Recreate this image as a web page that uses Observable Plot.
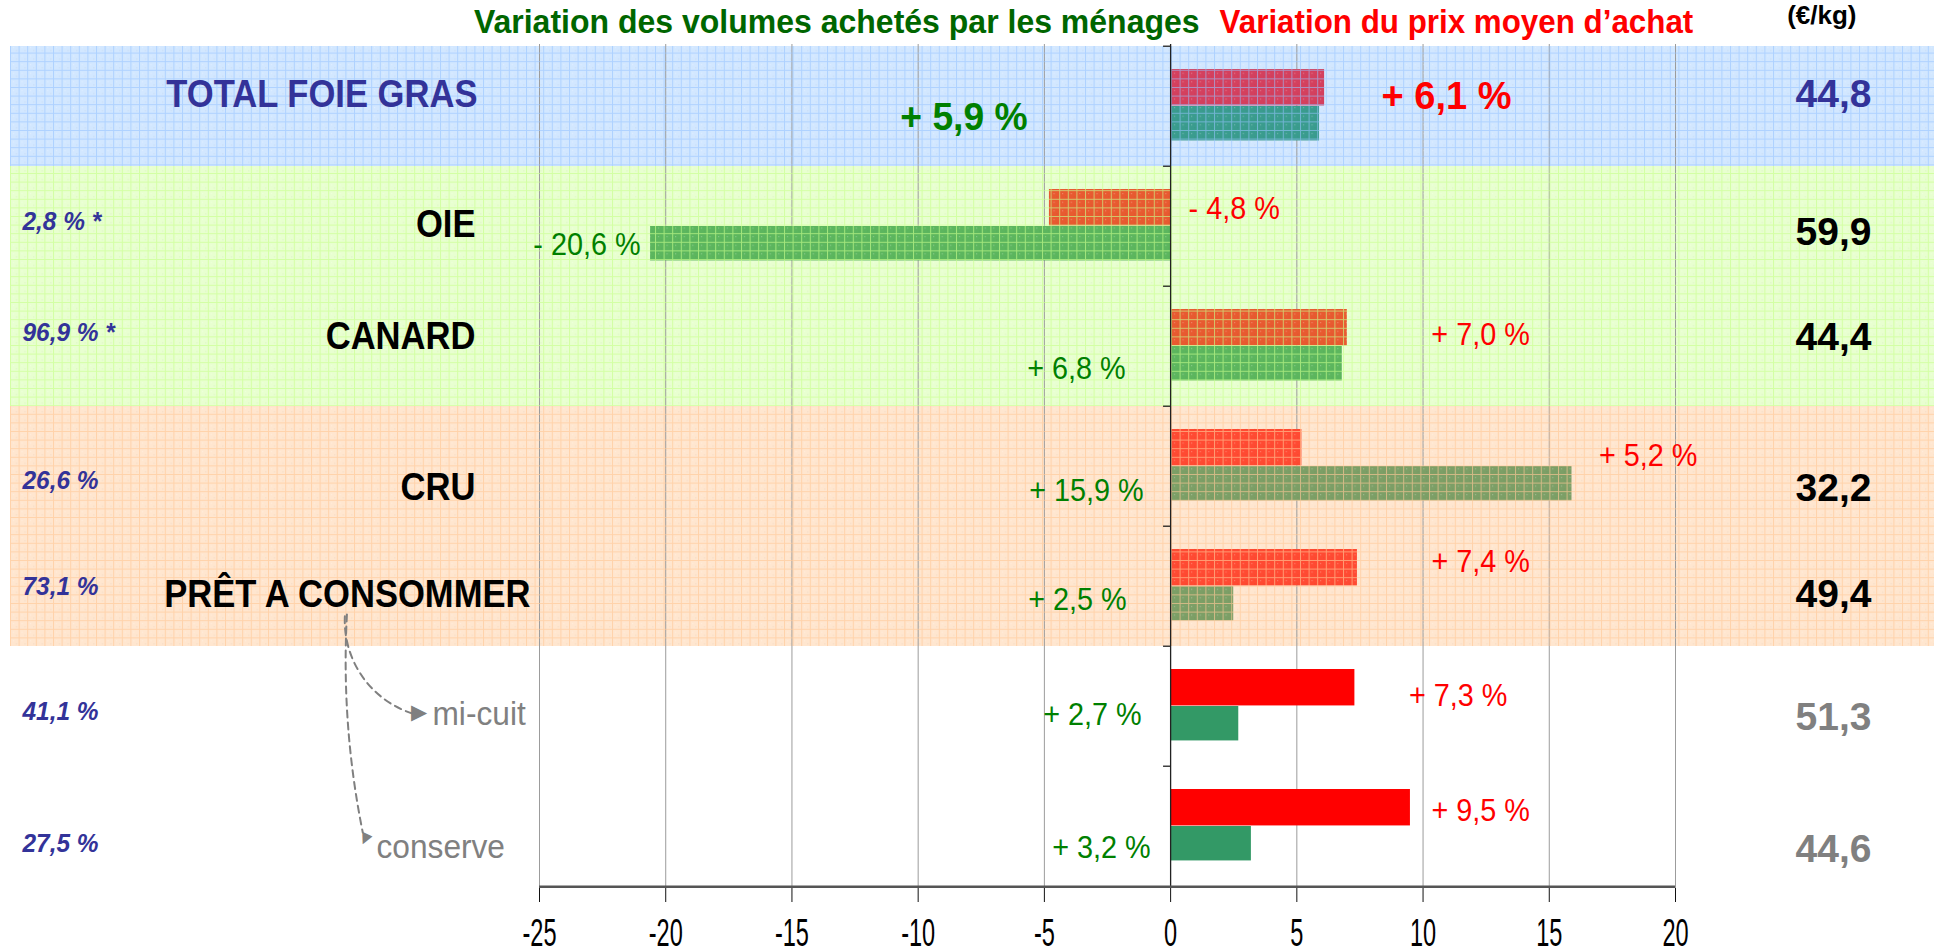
<!DOCTYPE html>
<html><head><meta charset="utf-8">
<script src="https://cdn.jsdelivr.net/npm/d3@7"></script>
<script src="https://cdn.jsdelivr.net/npm/@observablehq/plot@0.6"></script>
<style>body{margin:0;background:#fff} svg{display:block}</style>
</head><body><div id="chart"></div>
<script>
// ---- data ----
const categories = ["TOTAL FOIE GRAS", "OIE", "CANARD", "CRU", "PRÊT A CONSOMMER", "mi-cuit", "conserve"];
const volumeChange = [5.9, -20.6, 6.8, 15.9, 2.5, 2.7, 3.2];
const priceChange = [6.1, -4.8, 7.0, 5.2, 7.4, 7.3, 9.5];
const pricePerKg = [44.8, 59.9, 44.4, 32.2, 49.4, 51.3, 44.6];
const shares = ["", "2,8 % *", "96,9 % *", "26,6 %", "73,1 %", "41,1 %", "27,5 %"];
const groups = ["total", "espece", "espece", "presentation", "presentation", "detail", "detail"];
const xTicks = [-25, -20, -15, -10, -5, 0, 5, 10, 15, 20];
const titleVolume = "Variation des volumes achetés par les ménages";
const titlePrice = "Variation du prix moyen d’achat";
const unitLabel = "(€/kg)";

// ---- layout and styling (not data) ----
const W = 1934, H = 952, MT = 44, MB = 64, ML = 10, MR = 0;
const bw = (H - MT - MB) / categories.length;
const catX = [477, 475, 475, 475, 530, 432, 376];
const catDy = [-12, -2, -10, 21, 8, 8, 21];
const shareDy = [0, -5, -14, 14, 0, 5, 17];
const kgDy = [-12, 6, -9, 22, 8, 11, 23];
const volDx = [-143, -10, -45, -27, -44, -29, -20];
const volDy = [11, 18, 22, 24, 13, 8, 21];
const priceDx = [57, 18, 84, 297, 74, 54, 21];
const priceDy = [-10, -18, -12, -11, -25, -11, -16];
const bandFill = {total: "#d2e7ff", espece: "#e8ffd0", presentation: "#ffe6cf"};
const bandPattern = {total: "pBlue", espece: "pGreen", presentation: "pOrange"};
const priceColor = {total: "#d4405e", espece: "#e85a30", presentation: "#ff4a32", detail: "#ff0000"};
const volColor = {total: "#3a9c8e", espece: "#5cb65e", presentation: "#7c9f66", detail: "#339966"};
const kgColor = ["#333399", "#000", "#000", "#000", "#000", "#808080", "#808080"];

const rows = categories.map((cat, i) => ({
  cat, vol: volumeChange[i], price: priceChange[i], kg: pricePerKg[i], share: shares[i], group: groups[i], i
}));
const fmt = v => (v >= 0 ? "+ " : "- ") + Math.abs(v).toFixed(1).replace(".", ",") + " %";
const fmtKg = v => v.toFixed(1).replace(".", ",");
const byGroup = g => rows.filter(r => r.group === g);

const marks = [];
// background bands
for (const g of ["total", "espece", "presentation"]) {
  marks.push(Plot.cell(byGroup(g), {y: "cat", fill: bandFill[g]}));
}
// grid
marks.push(Plot.ruleX(xTicks.filter(t => t !== 0), {stroke: "#9c9c9c", strokeWidth: 1}));
// bars
const redInset = {insetTop: 23, insetBottom: bw - 60};
const greenInset = {insetTop: 60, insetBottom: bw - 95};
for (const g of ["total", "espece", "presentation", "detail"]) {
  marks.push(Plot.barX(byGroup(g), {x: "price", y: "cat", fill: priceColor[g], ...redInset}));
  marks.push(Plot.barX(byGroup(g), {x: "vol", y: "cat", fill: volColor[g], ...greenInset}));
}
// pattern overlay on bands
for (const g of ["total", "espece", "presentation"]) {
  marks.push(Plot.cell(byGroup(g), {y: "cat", fill: "none", ariaDescription: "pat:" + bandPattern[g]}));
}
// zero line and category ticks
marks.push(Plot.ruleX([0], {stroke: "#222", strokeWidth: 1.3}));
marks.push(Plot.ruleY(categories, {y: d => d, x1: -0.28, x2: 0, dy: -bw / 2, stroke: "#222", strokeWidth: 1.3}));
// x axis
marks.push(Plot.ruleY([categories[categories.length - 1]], {y: d => d, x1: -25, x2: 20, dy: bw / 2, stroke: "#555", strokeWidth: 2.5}));
marks.push(Plot.axisX({ticks: xTicks, tickFormat: d => String(d), tickSize: 14, tickPadding: 17, fontSize: 38, stroke: "#111", label: null}));

// titles
marks.push(Plot.text([0], {x: d => d, frameAnchor: "top", lineAnchor: "middle", dy: -22, dx: 29, textAnchor: "end", text: () => titleVolume,
  fill: "#006600", fontWeight: "bold", fontSize: 33, ariaDescription: "sx0.97"}));
marks.push(Plot.text([0], {x: d => d, frameAnchor: "top", lineAnchor: "middle", dy: -22, dx: 49, textAnchor: "start", text: () => titlePrice,
  fill: "#ff0000", fontWeight: "bold", fontSize: 33, ariaDescription: "sx0.95"}));
marks.push(Plot.text([unitLabel], {frameAnchor: "top-right", lineAnchor: "middle", dx: -78, dy: -29, textAnchor: "end", text: d => d,
  fill: "#000", fontWeight: "bold", fontSize: 26}));

rows.forEach((r, i) => {
  const main = r.group !== "detail";
  // category label
  marks.push(Plot.text([r], {y: "cat", frameAnchor: "left", dx: catX[i] - ML, dy: catDy[i], text: "cat",
    textAnchor: main ? "end" : "start",
    fill: i === 0 ? "#333399" : main ? "#000" : "#808080",
    fontWeight: main ? "bold" : "normal", fontSize: main ? 38 : 33, ariaDescription: main ? "sx0.91" : "sx0.96"}));
  // share
  if (r.share) marks.push(Plot.text([r], {y: "cat", frameAnchor: "left", dx: 12, dy: shareDy[i], text: "share",
    textAnchor: "start", fill: "#333399", fontWeight: "bold", fontStyle: "italic", fontSize: 26, ariaDescription: "sx0.94"}));
  // price per kg
  marks.push(Plot.text([r], {y: "cat", frameAnchor: "right", dx: 1871 - W, dy: kgDy[i], text: d => fmtKg(d.kg),
    textAnchor: "end", fill: kgColor[i], fontWeight: "bold", fontSize: 39}));
  // volume change label
  marks.push(Plot.text([r], {x: d => Math.min(d.vol, 0), y: "cat", dx: volDx[i], dy: volDy[i], text: d => fmt(d.vol),
    textAnchor: "end", fill: "#008000", fontWeight: i === 0 ? "bold" : "normal", fontSize: i === 0 ? 38 : 32,
    ariaDescription: i === 0 ? "sx0.98" : "sx0.9"}));
  // price change label
  marks.push(Plot.text([r], {x: d => Math.max(d.price, 0), y: "cat", dx: priceDx[i], dy: priceDy[i], text: d => fmt(d.price),
    textAnchor: "start", fill: "#ff0000", fontWeight: i === 0 ? "bold" : "normal", fontSize: i === 0 ? 38 : 32,
    ariaDescription: i === 0 ? "sx1" : "sx0.9"}));
});

// annotation arrows from "PRÊT A CONSOMMER" to its details
const arrowStartX = -32.57;
marks.push(Plot.arrow([{from: categories[4], to: categories[5]}], {x1: () => arrowStartX, x2: () => -29.9, y1: "from", y2: "to",
  dy: 8, bend: -45, headLength: 0, insetStart: 22, stroke: "#808080", strokeWidth: 2, strokeDasharray: "7,5"}));
marks.push(Plot.arrow([{from: categories[4], to: categories[6]}], {x1: () => arrowStartX, x2: () => -32.0, y1: "from", y2: "to",
  dy: 6, bend: -8, headLength: 0, insetStart: 22, stroke: "#808080", strokeWidth: 2, strokeDasharray: "7,5"}));
marks.push(Plot.text([categories[5]], {x: () => -30.1, y: d => d, dy: 6, text: () => "▶", textAnchor: "start", fill: "#808080", fontSize: 21}));
marks.push(Plot.text([categories[6]], {x: () => -31.9, y: d => d, dy: 12, text: () => "▼", textAnchor: "middle", fill: "#808080", fontSize: 19, rotate: 25}));

const svg = Plot.plot({
  width: W, height: H, marginTop: MT, marginBottom: MB, marginLeft: ML, marginRight: MR,
  style: {fontFamily: "'Liberation Sans', Arial, sans-serif", background: "#fff", overflow: "visible"},
  x: {domain: [-25, 20], range: [539, 1675]},
  y: {type: "band", domain: categories, padding: 0, axis: null},
  marks
});

// patterns (built with the DOM API)
const NS = "http://www.w3.org/2000/svg";
const el = (name, attrs) => { const e = document.createElementNS(NS, name); for (const k in attrs) e.setAttribute(k, attrs[k]); return e; };
const defs = el("defs", {});
const makePattern = (id, color) => {
  const p = el("pattern", {id, patternUnits: "userSpaceOnUse", x: ML, y: MT, width: 8.6, height: 8.6});
  p.appendChild(el("path", {d: "M0,0.5H8.6M0.5,0V8.6", stroke: color, "stroke-width": 1, fill: "none"}));
  p.appendChild(el("rect", {x: 3, y: 3, width: 1, height: 1, fill: "rgba(255,255,255,0.35)"}));
  p.appendChild(el("rect", {x: 6, y: 6, width: 1, height: 1, fill: "rgba(0,0,0,0.06)"}));
  defs.appendChild(p);
};
makePattern("pBlue", "rgba(150,195,255,0.6)");
makePattern("pGreen", "rgba(200,255,140,0.65)");
makePattern("pOrange", "rgba(255,200,150,0.65)");
svg.insertBefore(defs, svg.firstChild);
svg.querySelectorAll("g[aria-description^='pat:']").forEach(g => {
  const id = g.getAttribute("aria-description").slice(4);
  g.removeAttribute("fill");
  g.querySelectorAll("rect").forEach(r => r.setAttribute("fill", `url(#${id})`));
});
// narrow fonts (horizontal scaling)
const scaleTexts = (g, s) => g.querySelectorAll("text").forEach(t => {
  t.setAttribute("transform", (t.getAttribute("transform") || "") + ` scale(${s},1)`);
});
svg.querySelectorAll("g[aria-description^='sx']").forEach(g => scaleTexts(g, +g.getAttribute("aria-description").slice(2)));
svg.querySelectorAll("g[aria-label='x-axis tick label']").forEach(g => scaleTexts(g, 0.62));

document.getElementById("chart").appendChild(svg);
</script>
</body></html>
